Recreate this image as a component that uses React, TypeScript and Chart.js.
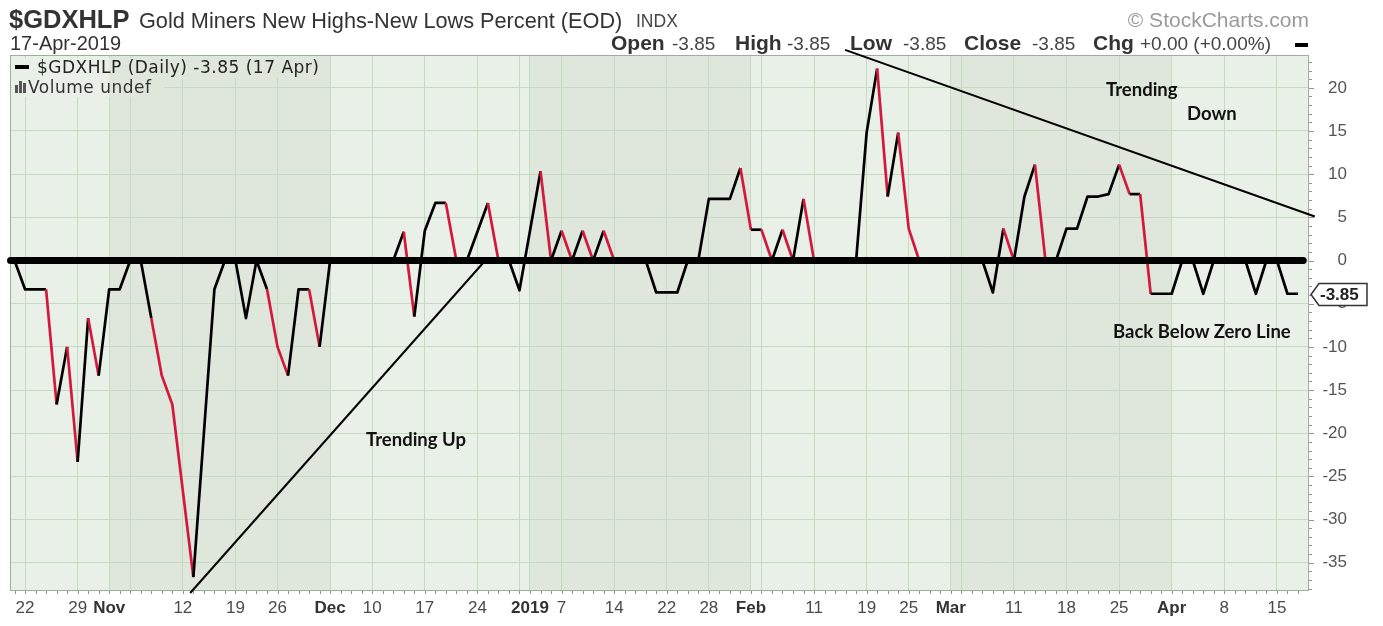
import React, { useEffect, useRef } from "react";
import { Chart, registerables } from "chart.js";

Chart.register(...registerables);

// Daily values of $GDXHLP, 19-Oct-2018 .. 17-Apr-2019 (trading days, index 0 = 19 Oct)
const values: number[] = [
  0, -3.33, -3.33, -3.33, -16.67, -10, -23.33, -6.67, -13.33, -3.33,
  -3.33, 0, 0, -6.67, -13.33, -16.67, -26.67, -36.67, -20, -3.33,
  0, 0, -6.67, 0, -3.33, -10, -13.33, -3.33, -3.33, -10,
  0, 0, 0, 0, 0, 0, 0, 3.33, -6.5, 3.45,
  6.67, 6.67, 0, 0, 3.33, 6.67, 0, 0, -3.45, 3.45,
  10.34, 0, 3.45, 0, 3.45, 0, 3.45, 0, 0, 0,
  0, -3.7, -3.7, -3.7, 0, 0, 7.14, 7.14, 7.14, 10.71,
  3.57, 3.57, 0, 3.57, 0, 7.14, 0, 0, 0, 0,
  0, 14.81, 22.22, 7.41, 14.81, 3.7, 0, 0, 0, 0,
  0, 0, 0, -3.7, 3.7, 0, 7.41, 11.11, 0, 0,
  3.7, 3.7, 7.41, 7.41, 7.69, 11.11, 7.69, 7.69, -3.85, -3.85,
  -3.85, 0, 0, -3.85, 0, 0, 0, 0, -3.85, 0,
  0, -3.85, -3.85,
];

// x-axis ticks (trading-day index) and their labels
const tickIndex: number[] = [1, 6, 9, 11, 16, 21, 25, 30, 34, 39, 44, 48, 49, 52, 57, 62, 66, 70, 71, 76, 81, 85, 89, 90, 95, 100, 105, 110, 115, 120];
const tickLabels: string[] = ["22", "29", "Nov", "", "12", "19", "26", "Dec", "10", "17", "24", "", "2019", "7", "14", "22", "28", "Feb", "", "11", "19", "25", "Mar", "", "11", "18", "25", "Apr", "8", "15"];
const boldLabels: string[] = ["Nov", "Dec", "2019", "Feb", "Mar", "Apr"];
const monthStartIndex: number[] = [9, 30, 49, 70, 89, 110];
const yTicks: number[] = [-35, -30, -25, -20, -15, -10, -5, 0, 5, 10, 15, 20];

// hand-drawn annotation lines (index, value)
const zeroLine = [{ x: -0.38, y: 0 }, { x: 122.5, y: 0 }];
const trendUp = [{ x: 16.7, y: -38.5 }, { x: 44.6, y: -0.2 }];
const trendDown = [{ x: 78.95, y: 24.4 }, { x: 123.6, y: 5.1 }];

const lastValue = values[values.length - 1];

const W = 1383;
const H = 626;
const X_MIN = -0.43;
const X_MAX = 123.05;
const Y_MIN = -38.27;
const Y_MAX = 23.8;

const LIGHT = "#e9f0e7";
const DARK = "#dfe6dc";
const GRID = "#c6dac2";
const RED = "#d4183c";
const FONT = "'Liberation Sans', Arial, sans-serif";

function paintBands(chart: any, clip?: [number, number, number, number][]) {
  const { ctx, chartArea: a, scales } = chart;
  const x = scales.x;
  ctx.save();
  if (clip) {
    ctx.beginPath();
    clip.forEach(([l, t, w, h]) => ctx.rect(l, t, w, h));
    ctx.clip();
  }
  ctx.fillStyle = LIGHT;
  ctx.fillRect(a.left, a.top, a.right - a.left, a.bottom - a.top);
  ctx.fillStyle = DARK;
  for (let k = 0; k < monthStartIndex.length; k += 2) {
    const x0 = x.getPixelForValue(monthStartIndex[k]);
    const x1 = k + 1 < monthStartIndex.length ? x.getPixelForValue(monthStartIndex[k + 1]) : a.right;
    ctx.fillRect(x0, a.top, x1 - x0, a.bottom - a.top);
  }
  ctx.restore();
}

const decorPlugin = {
  id: "decor",
  beforeDraw(chart: any) {
    paintBands(chart);
  },
  beforeDatasetsDraw(chart: any) {
    const { ctx, chartArea: a, scales } = chart;
    const x = scales.x;
    const y = scales.y;
    // legend backdrop (text rows only)
    paintBands(chart, [
      [a.left + 2, a.top + 3, 318, 20],
      [a.left + 2, a.top + 23, 152, 19],
    ]);
    ctx.save();
    // border
    ctx.strokeStyle = "#9fad9d";
    ctx.lineWidth = 1;
    ctx.strokeRect(a.left + 0.5, a.top + 0.5, a.right - a.left - 1, a.bottom - a.top - 1);
    // minor ticks
    ctx.strokeStyle = "#8f9b8e";
    ctx.beginPath();
    for (let i = 0; i < values.length; i++) {
      const px = Math.round(x.getPixelForValue(i)) + 0.5;
      ctx.moveTo(px, a.bottom);
      ctx.lineTo(px, a.bottom + 3);
    }
    for (let v = Math.ceil(Y_MIN); v <= Math.floor(Y_MAX); v++) {
      const py = Math.round(y.getPixelForValue(v)) + 0.5;
      ctx.moveTo(a.right, py);
      ctx.lineTo(a.right + (v % 5 === 0 ? 5 : 3), py);
    }
    ctx.stroke();
    ctx.restore();
  },
  afterDraw(chart: any) {
    const { ctx, chartArea: a, scales } = chart;
    const yc = Math.round(scales.y.getPixelForValue(lastValue)) + 0.5;
    const x0 = a.right + 2;
    const x1 = 1367;
    ctx.save();
    ctx.beginPath();
    ctx.moveTo(x0, yc);
    ctx.lineTo(x0 + 8, yc - 11);
    ctx.lineTo(x1, yc - 11);
    ctx.lineTo(x1, yc + 11);
    ctx.lineTo(x0 + 8, yc + 11);
    ctx.closePath();
    ctx.fillStyle = "#ffffff";
    ctx.fill();
    ctx.strokeStyle = "#333";
    ctx.lineWidth = 1.5;
    ctx.stroke();
    ctx.fillStyle = "#222";
    ctx.font = "bold 17px " + FONT;
    ctx.textBaseline = "middle";
    ctx.textAlign = "left";
    ctx.fillText(lastValue.toFixed(2), x0 + 9, yc + 1);
    ctx.restore();
  },
};

export default function App() {
  const ref = useRef<HTMLCanvasElement | null>(null);

  useEffect(() => {
    if (!ref.current) return;
    const chart = new Chart(ref.current, {
      type: "line",
      data: {
        datasets: [
          {
            data: values.map((v, i) => ({ x: i, y: v })),
            borderColor: "#000",
            borderWidth: 2.7,
            pointRadius: 0,
            tension: 0,
            borderJoinStyle: "round",
            segment: {
              borderColor: (c: any) => {
                const p = c.p0.parsed.y;
                const q = c.p1.parsed.y;
                return q < p && p !== 0 ? RED : "#000";
              },
            },
            order: 3,
          } as any,
          {
            data: zeroLine,
            borderColor: "#000",
            borderWidth: 7,
            borderCapStyle: "round",
            pointRadius: 0,
            clip: false,
            order: 2,
          } as any,
          {
            data: trendUp,
            borderColor: "#000",
            borderWidth: 2,
            pointRadius: 0,
            clip: false,
            order: 1,
          } as any,
          {
            data: trendDown,
            borderColor: "#000",
            borderWidth: 2,
            pointRadius: 0,
            clip: false,
            order: 1,
          } as any,
        ],
      },
      options: {
        responsive: false,
        animation: false,
        events: [],
        layout: { padding: { left: 10, top: 55, right: 36, bottom: 0 } },
        plugins: { legend: { display: false }, tooltip: { enabled: false } },
        scales: {
          x: {
            type: "linear",
            min: X_MIN,
            max: X_MAX,
            afterBuildTicks: (s: any) => {
              s.ticks = tickIndex.map((v) => ({ value: v }));
            },
            afterFit: (s: any) => {
              s.height = 35;
            },
            grid: { color: GRID, lineWidth: 1, drawTicks: false },
            border: { display: false },
            ticks: {
              autoSkip: false,
              maxRotation: 0,
              minRotation: 0,
              padding: 7,
              color: (c: any) => (boldLabels.includes(tickLabels[c.index]) ? "#333" : "#4a4a4a"),
              font: (c: any) => ({
                family: FONT,
                size: 17,
                weight: boldLabels.includes(tickLabels[c.index]) ? "bold" : "normal",
              }),
              callback: (_v: any, i: number) => tickLabels[i],
            },
          },
          y: {
            type: "linear",
            position: "right",
            min: Y_MIN,
            max: Y_MAX,
            afterBuildTicks: (s: any) => {
              s.ticks = yTicks.map((v) => ({ value: v }));
            },
            afterFit: (s: any) => {
              s.width = 38;
            },
            grid: { color: GRID, lineWidth: 1, drawTicks: false },
            border: { display: false },
            ticks: {
              crossAlign: "far",
              padding: 8,
              color: "#555",
              font: { family: FONT, size: 17 },
              callback: (v: any) => String(v),
            },
          },
        },
      },
      plugins: [decorPlugin],
    } as any);
    return () => chart.destroy();
  }, []);

  const abs = (left: number, top: number, size: number, extra: any = {}) => ({
    position: "absolute" as const,
    left,
    top,
    fontSize: size,
    lineHeight: size + "px",
    whiteSpace: "nowrap" as const,
    fontFamily: FONT,
    ...extra,
  });

  const ohlc: [string, number, boolean][] = [
    ["Open", 611, true],
    ["-3.85", 672, false],
    ["High", 735, true],
    ["-3.85", 787, false],
    ["Low", 850, true],
    ["-3.85", 903, false],
    ["Close", 964, true],
    ["-3.85", 1032, false],
    ["Chg", 1093, true],
    ["+0.00 (+0.00%)", 1140, false],
  ];

  const ann = { fontFamily: "Lato, 'Open Sans', sans-serif", fontWeight: 700, color: "#111" };

  return (
    <div style={{ position: "fixed", left: 0, top: 0, width: W, height: H, background: "#fff", overflow: "hidden" }}>
      <canvas ref={ref} width={W} height={H} style={{ position: "absolute", left: 0, top: 0, width: W, height: H }} />
      {/* header */}
      <div style={abs(9, 7, 25.5, { fontWeight: 700, color: "#333" })}>$GDXHLP</div>
      <div style={abs(139, 10, 21.7, { color: "#333" })}>Gold Miners New Highs-New Lows Percent (EOD)</div>
      <div style={abs(636, 13, 17.5, { color: "#444" })}>INDX</div>
      <div style={{ ...abs(0, 9, 21, { color: "#9a9a9a" }), left: undefined, right: W - 1309 }}>© StockCharts.com</div>
      <div style={abs(10, 33, 20, { color: "#333" })}>17-Apr-2019</div>
      {ohlc.map(([t, l, b], k) => (
        <div key={k} style={abs(l, b ? 32 : 34, b ? 21 : 19, { fontWeight: b ? 700 : 400, color: b ? "#333" : "#444" })}>
          {t}
        </div>
      ))}
      <div style={{ position: "absolute", left: 1295, top: 43, width: 13, height: 4, background: "#000" }} />
      {/* in-chart legend */}
      <div style={{ position: "absolute", left: 15, top: 65, width: 14, height: 4, background: "#000" }} />
      <div style={abs(37, 59, 17, { fontFamily: "'DejaVu Sans', sans-serif", color: "#222", letterSpacing: 0.5 })}>
        $GDXHLP (Daily) -3.85 (17 Apr)
      </div>
      <div style={{ position: "absolute", left: 15, top: 85, width: 3, height: 8, background: "#555" }} />
      <div style={{ position: "absolute", left: 19, top: 81, width: 3, height: 12, background: "#555" }} />
      <div style={{ position: "absolute", left: 23, top: 83, width: 3, height: 10, background: "#555" }} />
      <div style={abs(28, 79, 17, { fontFamily: "'DejaVu Sans', sans-serif", color: "#333", letterSpacing: 0.5 })}>
        Volume undef
      </div>
      {/* annotations */}
      <div style={abs(366, 430, 18.5, ann)}>Trending Up</div>
      <div style={abs(1106, 80, 18.5, ann)}>Trending</div>
      <div style={abs(1187, 104, 18.5, ann)}>Down</div>
      <div style={abs(1113, 322, 18.5, ann)}>Back Below Zero Line</div>
    </div>
  );
}
